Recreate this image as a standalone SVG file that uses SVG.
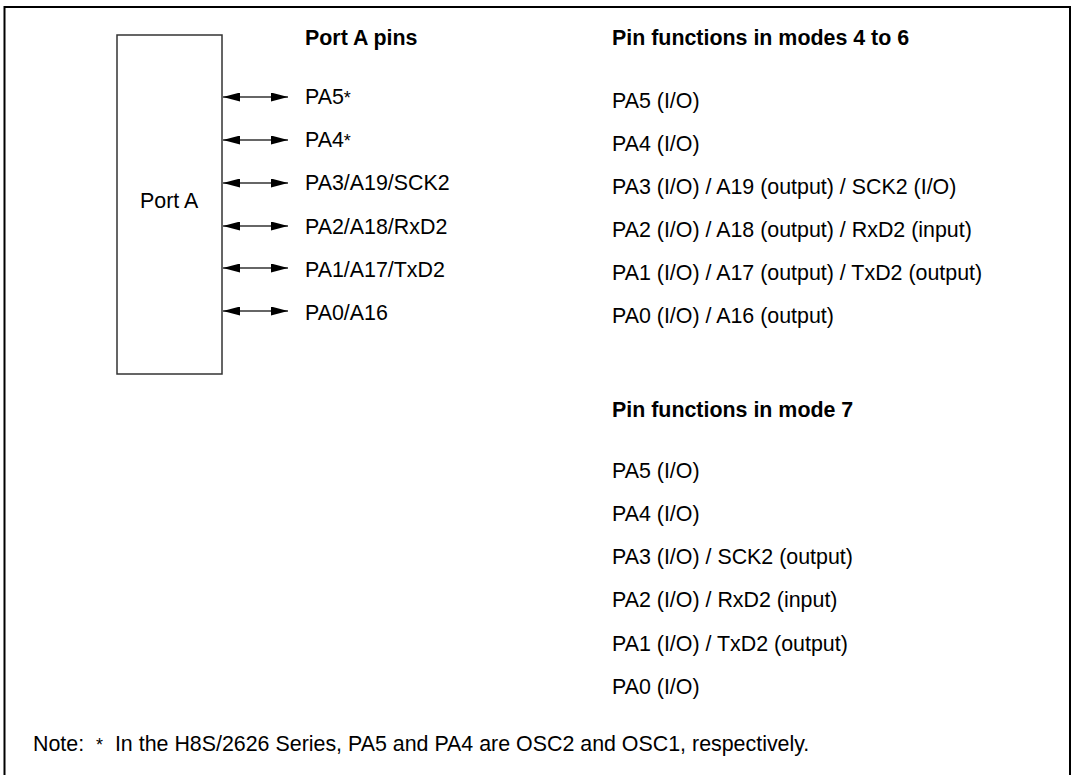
<svg xmlns="http://www.w3.org/2000/svg" width="1071" height="775" viewBox="0 0 1071 775">
<defs>
<style>
text{font-family:"Liberation Sans",Arial,sans-serif;font-size:21.4px;fill:#000}
.b{font-weight:bold}
.pre{white-space:pre}
.ar{stroke:#333;stroke-width:1.3;fill:none;marker-start:url(#ah);marker-end:url(#ah)}
</style>
<marker id="ah" viewBox="0 0 17 9" refX="17" refY="4.5" markerWidth="17" markerHeight="9" markerUnits="userSpaceOnUse" orient="auto-start-reverse">
<path d="M0,0 L17,4.5 L0,9 Z" fill="#000"/>
</marker>
</defs>
<rect width="1071" height="775" fill="#fff"/>
<rect x="4.5" y="7" width="1065.5" height="790" fill="none" stroke="#000" stroke-width="2"/>
<g id="portA">
<rect x="117" y="35" width="105" height="339" fill="#fff" stroke="#333" stroke-width="1.5"/>
<text x="140" y="208">Port A</text>
</g>
<g id="connectors">
<line class="ar" x1="223" y1="97" x2="288" y2="97"/>
<line class="ar" x1="223" y1="140" x2="288" y2="140"/>
<line class="ar" x1="223" y1="183" x2="288" y2="183"/>
<line class="ar" x1="223" y1="226" x2="288" y2="226"/>
<line class="ar" x1="223" y1="268" x2="288" y2="268"/>
<line class="ar" x1="223" y1="311" x2="288" y2="311"/>
</g>
<g id="pins">
<text class="b" x="305" y="45">Port A pins</text>
<text x="305" y="104">PA5<tspan font-size="18">*</tspan></text>
<text x="305" y="147">PA4<tspan font-size="18">*</tspan></text>
<text x="305" y="190">PA3/A19/SCK2</text>
<text x="305" y="234">PA2/A18/RxD2</text>
<text x="305" y="277">PA1/A17/TxD2</text>
<text x="305" y="320">PA0/A16</text>
</g>
<g id="modes4to6">
<text class="b" x="612" y="45">Pin functions in modes 4 to 6</text>
<text x="612" y="108">PA5 (I/O)</text>
<text x="612" y="151">PA4 (I/O)</text>
<text x="612" y="194">PA3 (I/O) / A19 (output) / SCK2 (I/O)</text>
<text x="612" y="237">PA2 (I/O) / A18 (output) / RxD2 (input)</text>
<text x="612" y="280">PA1 (I/O) / A17 (output) / TxD2 (output)</text>
<text x="612" y="323">PA0 (I/O) / A16 (output)</text>
</g>
<g id="mode7">
<text class="b" x="612" y="417">Pin functions in mode 7</text>
<text x="612" y="478">PA5 (I/O)</text>
<text x="612" y="521">PA4 (I/O)</text>
<text x="612" y="564">PA3 (I/O) / SCK2 (output)</text>
<text x="612" y="607">PA2 (I/O) / RxD2 (input)</text>
<text x="612" y="651">PA1 (I/O) / TxD2 (output)</text>
<text x="612" y="694">PA0 (I/O)</text>
</g>
<g id="note">
<text class="pre" x="33" y="751" xml:space="preserve">Note:  <tspan font-size="18">*</tspan>  In the H8S/2626 Series, PA5 and PA4 are OSC2 and OSC1, respectively.</text>
</g>
</svg>
